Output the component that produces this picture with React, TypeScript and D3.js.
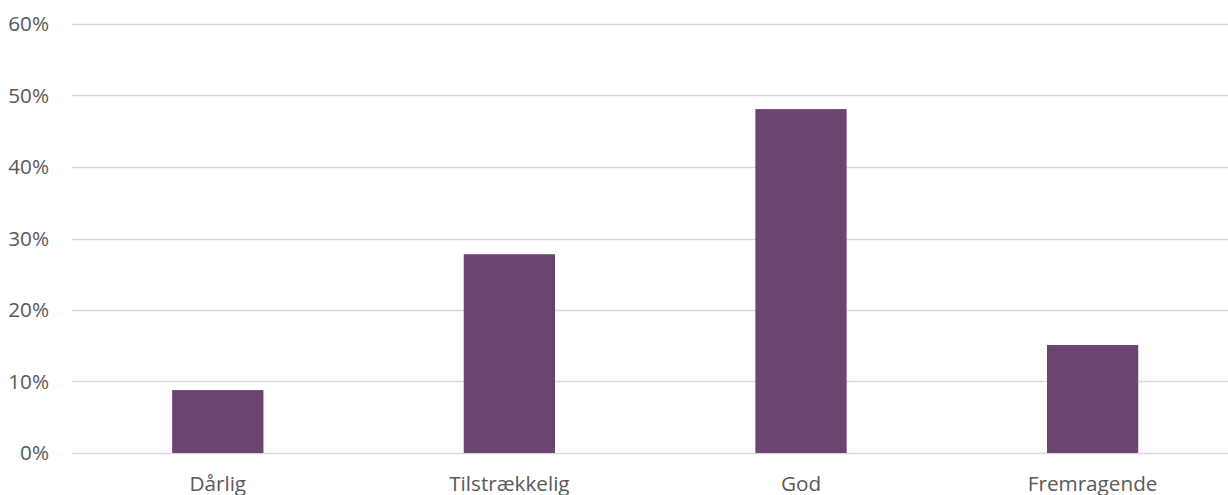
import React from "react";
import * as d3 from "d3";

const categories = ["Dårlig", "Tilstrækkelig", "God", "Fremragende"];
const values = [0.088, 0.278, 0.481, 0.151];
const yTicks = [0, 0.1, 0.2, 0.3, 0.4, 0.5, 0.6];

const W = 1228;
const H = 495;

export default function App() {
  const x = d3
    .scaleBand<string>()
    .domain(categories)
    .range([72, 1238.4])
    .paddingInner(0.687)
    .paddingOuter(0.3435);
  const y = d3.scaleLinear().domain([0, 0.6]).range([453, 24]);
  const fmt = d3.format(".0%");
  const font = "'Open Sans', sans-serif";
  return (
    <svg
      width={W}
      height={H}
      style={{ position: "absolute", left: 0, top: 0, background: "#fff" }}
    >
      {yTicks.map((t) => (
        <g key={t}>
          <line
            x1={72}
            x2={1228}
            y1={Math.round(y(t)) + 0.5}
            y2={Math.round(y(t)) + 0.5}
            stroke="#d9d9d9"
            strokeWidth={1.5}
          />
          <text
            x={49}
            y={y(t)}
            dy="0.35em"
            textAnchor="end"
            fontFamily={font}
            fontSize={20.7}
            fill="#595959"
          >
            {fmt(t)}
          </text>
        </g>
      ))}
      {categories.map((c, i) => (
        <rect
          key={c}
          x={x(c)}
          y={y(values[i])}
          width={x.bandwidth()}
          height={y(0) - y(values[i])}
          fill="#6b4470"
        />
      ))}
      {categories.map((c) => (
        <text
          key={c}
          x={(x(c) as number) + x.bandwidth() / 2}
          y={491}
          textAnchor="middle"
          fontFamily={font}
          fontSize={20.7}
          fill="#595959"
        >
          {c}
        </text>
      ))}
    </svg>
  );
}
